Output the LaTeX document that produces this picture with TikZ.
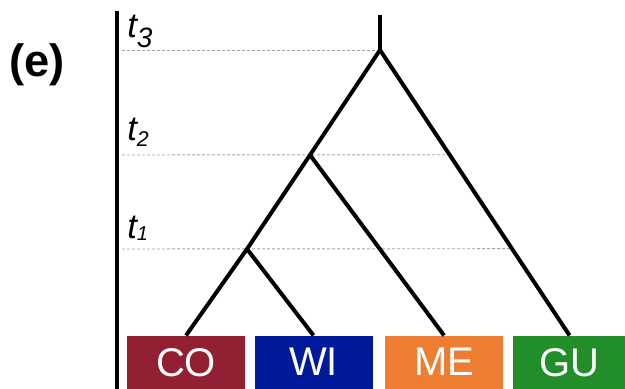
\documentclass[tikz,border=0pt]{standalone}
\usepackage{fontspec}
\setmainfont{Liberation Sans}
\usetikzlibrary{positioning,calc}
\definecolor{coRed}{RGB}{147,31,50}
\definecolor{wiBlue}{RGB}{0,26,156}
\definecolor{meOrange}{RGB}{237,125,49}
\definecolor{guGreen}{RGB}{33,142,42}
\definecolor{guideGray}{RGB}{165,165,165}
% italic t with a lowered index: digit, size, drop
\newcommand{\timesub}[3]{t\raisebox{-#3}{\fontsize{#2}{#2}\selectfont #1}}

\begin{document}
\begin{tikzpicture}[
    x=0.75pt, y=-0.75pt,
    leaf/.style={rectangle, minimum width=88.5pt, minimum height=39.75pt, inner sep=0pt, text=white, font=\fontsize{30}{36}\selectfont},
    branch/.style={line width=3pt, line join=miter},
    guide/.style={guideGray, line width=0.7pt, dash pattern=on 2.25pt off 1.5pt},
    timelabel/.style={anchor=base west, inner sep=0pt, font=\fontsize{26}{30}\selectfont\itshape}
]
\useasboundingbox (0,0) rectangle (625,389);

% Panel tag and time axis
\node[anchor=base, font=\fontsize{34}{40}\selectfont\bfseries] (tag) at (37,76) {(e)};
\coordinate (axistop) at (117,11);
\coordinate (axisbot) at (117,389);
\draw[line width=3pt] (axistop) -- (axisbot);

% Leaves
\node[leaf, fill=coRed, anchor=south] (co) at (186,389) {CO};
\node[leaf, fill=wiBlue, right=6.75pt of co] (wi) {WI};
\node[leaf, fill=meOrange, right=9pt of wi] (me) {ME};
\node[leaf, fill=guGreen, right=6.75pt of me, minimum width=85.5pt] (gu) {GU};

% Internal nodes
\coordinate (top) at (380,15);
\coordinate (root) at (380,50);
\coordinate (n2) at (310,155);
\coordinate (n1) at (247,249);

% Time labels
\node[timelabel] (t3) at (127,37) {\timesub{3}{21pt}{7.5pt}};
\node[timelabel] (t2) at (127,140) {\timesub{2}{16pt}{4.5pt}};
\node[timelabel] (t1) at (127,238) {\timesub{1}{15pt}{1.5pt}};

% Guides
\draw[guide] (axistop |- root) ++(5,0) -- (root);
\draw[guide] (axistop |- n2) ++(5,0) -- ($(root)!0.367!(gu.north)$);
\draw[guide] (axistop |- n1) ++(5,0) -- ($(root)!0.696!(gu.north)$);

% Tree
\draw[branch] (top) -- (root);
\draw[branch] (root) -- (n2) -- (n1) -- (co.north);
\draw[branch] (n1) -- (wi.north);
\draw[branch] (n2) -- (me.north);
\draw[branch] (root) -- (gu.north);

\end{tikzpicture}
\end{document}
